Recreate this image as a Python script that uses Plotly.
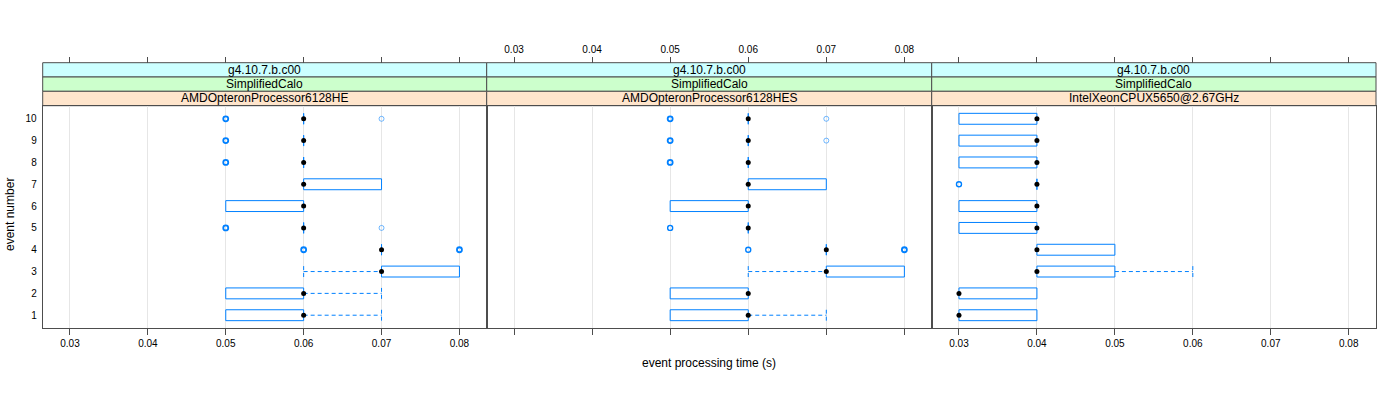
import plotly.graph_objects as go

# ---------------- data ----------------
events = [1, 2, 3, 4, 5, 6, 7, 8, 9, 10]
x_ticks = [0.03, 0.04, 0.05, 0.06, 0.07, 0.08]
x_tick_labels = ["0.03", "0.04", "0.05", "0.06", "0.07", "0.08"]

strip_release = ["g4.10.7.b.c00", "g4.10.7.b.c00", "g4.10.7.b.c00"]
strip_test = ["SimplifiedCalo", "SimplifiedCalo", "SimplifiedCalo"]
strip_cpu = ["AMDOpteronProcessor6128HE", "AMDOpteronProcessor6128HES", "IntelXeonCPUX5650@2.67GHz"]

# panel 1: AMDOpteronProcessor6128HE
p1_med = [0.06, 0.06, 0.07, 0.07, 0.06, 0.06, 0.06, 0.06, 0.06, 0.06]
p1_q1 = [0.05, 0.05, 0.07, 0.07, 0.06, 0.05, 0.06, 0.06, 0.06, 0.06]
p1_q3 = [0.06, 0.06, 0.08, 0.07, 0.06, 0.06, 0.07, 0.06, 0.06, 0.06]
p1_wlo = [0.05, 0.05, 0.06, 0.07, 0.06, 0.05, 0.06, 0.06, 0.06, 0.06]
p1_whi = [0.07, 0.07, 0.08, 0.07, 0.06, 0.06, 0.07, 0.06, 0.06, 0.06]
p1_out_event = [4, 4, 5, 5, 8, 9, 10, 10]
p1_out_value = [0.06, 0.08, 0.05, 0.07, 0.05, 0.05, 0.05, 0.07]
p1_out_count = [3, 3, 3, 1, 3, 3, 3, 1]

# panel 2: AMDOpteronProcessor6128HES
p2_med = [0.06, 0.06, 0.07, 0.07, 0.06, 0.06, 0.06, 0.06, 0.06, 0.06]
p2_q1 = [0.05, 0.05, 0.07, 0.07, 0.06, 0.05, 0.06, 0.06, 0.06, 0.06]
p2_q3 = [0.06, 0.06, 0.08, 0.07, 0.06, 0.06, 0.07, 0.06, 0.06, 0.06]
p2_wlo = [0.05, 0.05, 0.06, 0.07, 0.06, 0.05, 0.06, 0.06, 0.06, 0.06]
p2_whi = [0.07, 0.06, 0.08, 0.07, 0.06, 0.06, 0.07, 0.06, 0.06, 0.06]
p2_out_event = [4, 4, 5, 8, 9, 9, 10, 10]
p2_out_value = [0.06, 0.08, 0.05, 0.05, 0.05, 0.07, 0.05, 0.07]
p2_out_count = [2, 3, 2, 3, 3, 1, 3, 1]

# panel 3: IntelXeonCPUX5650@2.67GHz
p3_med = [0.03, 0.03, 0.04, 0.04, 0.04, 0.04, 0.04, 0.04, 0.04, 0.04]
p3_q1 = [0.03, 0.03, 0.04, 0.04, 0.03, 0.03, 0.04, 0.03, 0.03, 0.03]
p3_q3 = [0.04, 0.04, 0.05, 0.05, 0.04, 0.04, 0.04, 0.04, 0.04, 0.04]
p3_wlo = [0.03, 0.03, 0.04, 0.04, 0.03, 0.03, 0.04, 0.03, 0.03, 0.03]
p3_whi = [0.04, 0.04, 0.06, 0.05, 0.04, 0.04, 0.04, 0.04, 0.04, 0.04]
p3_out_event = [7]
p3_out_value = [0.03]
p3_out_count = [2]

panels = [
    (p1_med, p1_q1, p1_q3, p1_wlo, p1_whi, p1_out_event, p1_out_value, p1_out_count),
    (p2_med, p2_q1, p2_q3, p2_wlo, p2_whi, p2_out_event, p2_out_value, p2_out_count),
    (p3_med, p3_q1, p3_q3, p3_wlo, p3_whi, p3_out_event, p3_out_value, p3_out_count),
]

# ---------------- style / layout ----------------
W, H = 1400, 400
FONT = "Liberation Sans, Arial, Helvetica, sans-serif"
BLUE = "#0080FF"
BORDER = "#4D4D4D"
GRID = "#E6E6E6"
HALF = 0.25  # half box height in category units

px_x = [42.7, 486.7, 931.7, 1376.0]
y_panel_top, y_panel_bot = 105.7, 328.3
strip_edges = [62.7, 77.0, 91.3, 105.7]
strip_colors = ["#CCFFFF", "#CCFFCC", "#FFE5CC"]

def xp(v):
    return v / W

def yp(v):
    return 1 - v / H

xrange_ = [0.0265, 0.0835]
yrange_ = [0.4, 10.6]

fig = go.Figure()

for i, (med, q1, q3, wlo, whi, oe, ov, oc) in enumerate(panels):
    xa = "x" if i == 0 else f"x{i+1}"
    ya = "y" if i == 0 else f"y{i+1}"
    # boxes
    bx, by = [], []
    for e, a, b in zip(events, q1, q3):
        bx += [a, b, b, a, a, None]
        by += [e - HALF, e - HALF, e + HALF, e + HALF, e - HALF, None]
    fig.add_trace(go.Scatter(x=bx, y=by, mode="lines", xaxis=xa, yaxis=ya,
                             line=dict(color=BLUE, width=1), hoverinfo="skip",
                             showlegend=False))
    # whiskers
    wx, wy = [], []
    for e, a, b, lo, hi in zip(events, q1, q3, wlo, whi):
        if lo < a:
            wx += [lo, a, None, lo, lo, None]
            wy += [e, e, None, e - HALF, e + HALF, None]
        if hi > b:
            wx += [b, hi, None, hi, hi, None]
            wy += [e, e, None, e - HALF, e + HALF, None]
    if wx:
        fig.add_trace(go.Scatter(x=wx, y=wy, mode="lines", xaxis=xa, yaxis=ya,
                                 line=dict(color=BLUE, width=1, dash="4px,3px"),
                                 hoverinfo="skip", showlegend=False))
    # outliers
    lw = [0.8 if c == 1 else (1.4 if c == 2 else 1.8) for c in oc]
    oc_col = ["rgba(0,128,255,0.7)" if c == 1 else BLUE for c in oc]
    fig.add_trace(go.Scatter(x=ov, y=oe, mode="markers", xaxis=xa, yaxis=ya,
                             marker=dict(symbol="circle-open", size=5,
                                         color=oc_col,
                                         line=dict(width=lw, color=oc_col)),
                             hoverinfo="skip", showlegend=False))
    # medians
    fig.add_trace(go.Scatter(x=med, y=events, mode="markers", xaxis=xa, yaxis=ya,
                             marker=dict(symbol="circle", size=5, color="black"),
                             hoverinfo="skip", showlegend=False))
    # dummy trace on top axis
    fig.add_trace(go.Scatter(x=[x_ticks[0]], y=[events[0]], mode="markers",
                             xaxis=f"x{i+4}", yaxis=ya,
                             marker=dict(opacity=0), hoverinfo="skip",
                             showlegend=False))

layout = dict(
    width=W, height=H,
    margin=dict(l=0, r=0, t=0, b=0),
    paper_bgcolor="white", plot_bgcolor="white",
    font=dict(family=FONT, size=10, color="black"),
    showlegend=False,
)

ydom = [yp(y_panel_bot), yp(y_panel_top)]
for i in range(3):
    dom = [xp(px_x[i]), xp(px_x[i + 1])]
    xk = "xaxis" if i == 0 else f"xaxis{i+1}"
    yk = "yaxis" if i == 0 else f"yaxis{i+1}"
    layout[xk] = dict(
        domain=dom, range=xrange_, anchor="y" if i == 0 else f"y{i+1}",
        tickvals=x_ticks, ticktext=x_tick_labels,
        showticklabels=(i != 1), ticks="outside", ticklen=6,
        tickcolor=BORDER, tickwidth=1,
        tickfont=dict(size=10, family=FONT, color="black"),
        showline=True, linecolor=BORDER, linewidth=1, mirror=True,
        showgrid=True, gridcolor=GRID, gridwidth=1, zeroline=False,
    )
    layout[yk] = dict(
        domain=ydom, range=yrange_, anchor="x" if i == 0 else f"x{i+1}",
        tickvals=events, ticktext=[str(e) for e in events],
        showticklabels=(i == 0), ticks="outside" if i == 0 else "",
        ticklen=3, tickcolor="rgba(0,0,0,0)",
        tickfont=dict(size=10, family=FONT, color="black"),
        showline=True, linecolor=BORDER, linewidth=1, mirror=True,
        showgrid=False, zeroline=False,
    )
    layout[f"xaxis{i+4}"] = dict(
        domain=dom, range=xrange_, anchor="free", overlaying=("x" if i == 0 else f"x{i+1}"),
        position=yp(strip_edges[0]), side="top",
        tickvals=x_ticks, ticktext=x_tick_labels,
        showticklabels=(i == 1), ticks="outside", ticklen=6,
        tickcolor=BORDER, tickwidth=1,
        tickfont=dict(size=10, family=FONT, color="black"),
        showline=False, showgrid=False, zeroline=False,
    )

fig.update_layout(**layout)

shapes = []
annotations = []
strip_texts = [strip_release, strip_test, strip_cpu]
for i in range(3):
    for k in range(3):
        shapes.append(dict(type="rect", xref="paper", yref="paper",
                           x0=xp(px_x[i]), x1=xp(px_x[i + 1]),
                           y0=yp(strip_edges[k + 1]), y1=yp(strip_edges[k]),
                           fillcolor=strip_colors[k],
                           line=dict(color=BORDER, width=1), layer="below"))
        annotations.append(dict(xref="paper", yref="paper",
                                x=(xp(px_x[i]) + xp(px_x[i + 1])) / 2,
                                y=(yp(strip_edges[k]) + yp(strip_edges[k + 1])) / 2,
                                text=strip_texts[k][i], showarrow=False,
                                xanchor="center", yanchor="middle",
                                font=dict(size=12, family=FONT, color="black")))

annotations.append(dict(xref="paper", yref="paper", x=xp(709), y=yp(363),
                        text="event processing time (s)", showarrow=False,
                        xanchor="center", yanchor="middle",
                        font=dict(size=12, family=FONT, color="black")))
annotations.append(dict(xref="paper", yref="paper", x=xp(10), y=yp(215),
                        text="event number", showarrow=False, textangle=-90,
                        xanchor="center", yanchor="middle",
                        font=dict(size=12, family=FONT, color="black")))

fig.update_layout(shapes=shapes, annotations=annotations)
fig.write_html("out.html", config={"displayModeBar": False},
               post_script="document.body.style.margin='0';document.body.style.padding='0';")
